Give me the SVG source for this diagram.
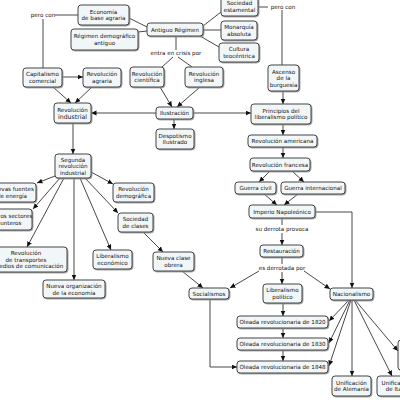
<svg xmlns="http://www.w3.org/2000/svg" width="400" height="400" viewBox="0 0 400 400">
<style>
.n rect{fill:#f1f6f8;stroke:#333;stroke-width:0.9;filter:url(#sh)}
text{font-family:"DejaVu Sans","Verdana",sans-serif;font-size:5.6px;fill:#111;text-anchor:middle}
.c line,.c polyline,.c path{stroke:#333;stroke-width:0.9;fill:none}
.c .a{marker-end:url(#ah)}
</style>
<defs>
<filter id="sh" x="-10%" y="-10%" width="130%" height="140%"><feDropShadow dx="0.8" dy="0.8" stdDeviation="0.3" flood-color="#888"/></filter>
<marker id="ah" markerUnits="userSpaceOnUse" markerWidth="6" markerHeight="6" refX="5.5" refY="2.5" orient="auto"><path d="M0,0 L5.5,2.5 L0,5 z" fill="#111"/></marker>
</defs>
<rect width="400" height="400" fill="#fff"/>
<g class="c" id="connectors">
<line x1="55" y1="15" x2="78" y2="15"/>
<line x1="43" y1="19" x2="43" y2="68"/>
<line x1="129" y1="18" x2="147" y2="27"/>
<line x1="138" y1="32" x2="147" y2="31"/>
<line x1="203" y1="26" x2="221" y2="12"/>
<line x1="203" y1="30" x2="221" y2="30"/>
<line x1="200" y1="36" x2="219" y2="47"/>
<line x1="176" y1="36" x2="176" y2="50"/>
<line x1="173" y1="57" x2="162" y2="67"/>
<line x1="178" y1="57" x2="192" y2="67"/>
<line class="a" x1="160" y1="87" x2="172" y2="107"/>
<line class="a" x1="200" y1="87" x2="177" y2="107"/>
<line class="a" x1="53" y1="87" x2="71" y2="103"/>
<line class="a" x1="92" y1="87" x2="75" y2="103"/>
<line class="a" x1="62" y1="77" x2="83" y2="77"/>
<line class="a" x1="156" y1="113" x2="91" y2="113"/>
<line class="a" x1="193" y1="113" x2="251" y2="113"/>
<line class="a" x1="174" y1="119" x2="174" y2="129"/>
<line x1="258" y1="7" x2="268" y2="7"/>
<line x1="282" y1="10" x2="282" y2="65"/>
<line class="a" x1="283" y1="91" x2="283" y2="104"/>
<line class="a" x1="283" y1="124" x2="283" y2="135"/>
<line class="a" x1="283" y1="147" x2="283" y2="158"/>
<line class="a" x1="270" y1="171" x2="259" y2="182"/>
<line class="a" x1="292" y1="171" x2="304" y2="182"/>
<line class="a" x1="264" y1="194" x2="277" y2="205"/>
<line class="a" x1="298" y1="194" x2="284" y2="205"/>
<polyline class="a" points="315,212 352,212 352,288"/>
<line x1="282" y1="218" x2="282" y2="225"/>
<line class="a" x1="282" y1="233" x2="282" y2="245"/>
<line x1="282" y1="257" x2="282" y2="264"/>
<line class="a" x1="259" y1="271" x2="230" y2="288"/>
<line class="a" x1="282" y1="272" x2="282" y2="284"/>
<line class="a" x1="304" y1="271" x2="330" y2="289"/>
<line class="a" x1="283" y1="303" x2="283" y2="316"/>
<line class="a" x1="283" y1="328" x2="283" y2="338"/>
<line class="a" x1="283" y1="350" x2="283" y2="361"/>
<polyline class="a" points="210,299 210,367 237,367"/>
<line class="a" x1="349" y1="300" x2="329" y2="321"/>
<line class="a" x1="350" y1="300" x2="329" y2="343"/>
<line class="a" x1="351" y1="300" x2="329" y2="366"/>
<line class="a" x1="352" y1="300" x2="352" y2="376"/>
<line class="a" x1="354" y1="300" x2="392" y2="376"/>
<line class="a" x1="355" y1="300" x2="398" y2="351"/>
<line class="a" x1="73" y1="123" x2="73" y2="154"/>
<line class="a" x1="55" y1="176" x2="37" y2="183"/>
<line class="a" x1="60" y1="178" x2="33" y2="209"/>
<line class="a" x1="64" y1="178" x2="27" y2="247"/>
<line class="a" x1="74" y1="178" x2="74" y2="280"/>
<line class="a" x1="80" y1="178" x2="111" y2="250"/>
<line class="a" x1="85" y1="178" x2="118" y2="213"/>
<line class="a" x1="91" y1="172" x2="113" y2="184"/>
<line class="a" x1="143" y1="232" x2="163" y2="252"/>
<line class="a" x1="182" y1="271" x2="203" y2="288"/>
</g>
<g id="labels">
<text x="43" y="17">pero con</text>
<text x="283" y="9">pero con</text>
<text x="176" y="55">entra en crisis por</text>
<text x="282" y="231">su derrota provoca</text>
<text x="282" y="270">es derrotada por</text>
</g>
<g class="n" id="n-economia"><rect x="78" y="5" width="51" height="20" rx="3"/><text><tspan x="103.5" y="13.5">Economía</tspan><tspan x="103.5" y="20">de base agraria</tspan></text></g>
<g class="n" id="n-regimen-demo"><rect x="71" y="29" width="67" height="21" rx="3"/><text><tspan x="104.5" y="38">Régimen demográfico</tspan><tspan x="104.5" y="44.5">antiguo</tspan></text></g>
<g class="n" id="n-capitalismo"><rect x="23" y="68" width="39" height="19" rx="3"/><text><tspan x="42.5" y="76">Capitalismo</tspan><tspan x="42.5" y="82.5">comercial</tspan></text></g>
<g class="n" id="n-rev-agraria"><rect x="83" y="68" width="38" height="19" rx="3"/><text><tspan x="102" y="76">Revolución</tspan><tspan x="102" y="82.5">agraria</tspan></text></g>
<g class="n" id="n-rev-industrial"><rect x="54" y="103" width="37" height="20" rx="3"/><text><tspan x="72.5" y="111.5">Revolución</tspan><tspan x="72.5" y="118.5" font-size="6.2">industrial</tspan></text></g>
<g class="n" id="n-antiguo"><rect x="147" y="23" width="56" height="13" rx="3"/><text x="175" y="31.5">Antiguo Régimen</text></g>
<g class="n" id="n-sociedad-est"><rect x="221" y="-3" width="37" height="19" rx="3"/><text><tspan x="239.5" y="5">Sociedad</tspan><tspan x="239.5" y="11.5">estamental</tspan></text></g>
<g class="n" id="n-monarquia"><rect x="221" y="21" width="36" height="19" rx="3"/><text><tspan x="239" y="29">Monarquía</tspan><tspan x="239" y="35.5">absoluta</tspan></text></g>
<g class="n" id="n-cultura"><rect x="219" y="43" width="40" height="19" rx="3"/><text><tspan x="239" y="51">Cultura</tspan><tspan x="239" y="57.5">teocéntrica</tspan></text></g>
<g class="n" id="n-rev-cientifica"><rect x="130" y="67" width="34" height="20" rx="3"/><text><tspan x="147" y="75.5">Revolución</tspan><tspan x="147" y="82">científica</tspan></text></g>
<g class="n" id="n-rev-inglesa"><rect x="185" y="67" width="38" height="20" rx="3"/><text><tspan x="204" y="75.5">Revolución</tspan><tspan x="204" y="82">inglesa</tspan></text></g>
<g class="n" id="n-ilustracion"><rect x="156" y="107" width="37" height="12" rx="3"/><text x="174.5" y="115">Ilustración</text></g>
<g class="n" id="n-despotismo"><rect x="156" y="129" width="38" height="20" rx="3"/><text><tspan x="175" y="137.5">Despotismo</tspan><tspan x="175" y="144">Ilustrado</tspan></text></g>
<g class="n" id="n-ascenso"><rect x="268" y="65" width="31" height="26" rx="3"/><text><tspan x="283.5" y="73.5">Ascenso</tspan><tspan x="283.5" y="80">de la</tspan><tspan x="283.5" y="86.5">burguesía</tspan></text></g>
<g class="n" id="n-principios"><rect x="251" y="104" width="60" height="20" rx="3"/><text><tspan x="281" y="112.5">Principios del</tspan><tspan x="281" y="119">liberalismo político</tspan></text></g>
<g class="n" id="n-rev-americana"><rect x="248" y="135" width="69" height="12" rx="3"/><text x="282.5" y="143">Revolución americana</text></g>
<g class="n" id="n-rev-francesa"><rect x="250" y="158" width="60" height="13" rx="3"/><text x="280" y="166.5">Revolución francesa</text></g>
<g class="n" id="n-guerra-civil"><rect x="235" y="182" width="41" height="12" rx="3"/><text x="255.5" y="190">Guerra civil</text></g>
<g class="n" id="n-guerra-int"><rect x="281" y="182" width="64" height="12" rx="3"/><text x="313" y="190">Guerra internacional</text></g>
<g class="n" id="n-imperio"><rect x="249" y="205" width="66" height="13" rx="3"/><text x="282" y="213.5">Imperio Napoleónico</text></g>
<g class="n" id="n-restauracion"><rect x="260" y="245" width="43" height="12" rx="3"/><text x="281.5" y="253">Restauración</text></g>
<g class="n" id="n-socialismos"><rect x="189" y="288" width="40" height="11" rx="3"/><text x="209" y="295.5">Socialismos</text></g>
<g class="n" id="n-lib-politico"><rect x="263" y="284" width="39" height="19" rx="3"/><text><tspan x="282.5" y="292">Liberalismo</tspan><tspan x="282.5" y="298.5">político</tspan></text></g>
<g class="n" id="n-nacionalismo"><rect x="330" y="288" width="43" height="12" rx="3"/><text x="351.5" y="296">Nacionalismo</text></g>
<g class="n" id="n-1820"><rect x="237" y="316" width="91" height="12" rx="3"/><text x="282.5" y="324">Oleada revolucionaria de 1820</text></g>
<g class="n" id="n-1830"><rect x="237" y="338" width="91" height="12" rx="3"/><text x="282.5" y="346">Oleada revolucionaria de 1830</text></g>
<g class="n" id="n-1848"><rect x="237" y="361" width="91" height="12" rx="3"/><text x="282.5" y="369">Oleada revolucionaria de 1848</text></g>
<g class="n" id="n-alemania"><rect x="332" y="376" width="39" height="20" rx="3"/><text><tspan x="351.5" y="384.5">Unificación</tspan><tspan x="351.5" y="391">de Alemania</tspan></text></g>
<g class="n" id="n-italia"><rect x="377" y="376" width="40" height="20" rx="3"/><text><tspan x="397" y="384.5">Unificación</tspan><tspan x="397" y="391">de Italia</tspan></text></g>
<g class="n" id="n-right"><rect x="398" y="340" width="40" height="30" rx="3"/></g>
<g class="n" id="n-segunda"><rect x="55" y="154" width="36" height="24" rx="3"/><text><tspan x="73" y="161.5">Segunda</tspan><tspan x="73" y="168">revolución</tspan><tspan x="73" y="174.5">industrial</tspan></text></g>
<g class="n" id="n-fuentes"><rect x="-12" y="183" width="48" height="19" rx="3"/><text><tspan x="12" y="191">Nuevas fuentes</tspan><tspan x="12" y="197.5">de energía</tspan></text></g>
<g class="n" id="n-sectores"><rect x="-14" y="209" width="46" height="21" rx="3"/><text><tspan x="9" y="218">Nuevos sectores</tspan><tspan x="9" y="224.5">punteros</tspan></text></g>
<g class="n" id="n-transportes"><rect x="-15" y="247" width="82" height="25" rx="3"/><text><tspan x="26" y="255">Revolución</tspan><tspan x="26" y="261.5">de transportes</tspan><tspan x="26" y="268">y medios de comunicación</tspan></text></g>
<g class="n" id="n-nueva-org"><rect x="43" y="280" width="62" height="18" rx="3"/><text><tspan x="74" y="288">Nueva organización</tspan><tspan x="74" y="294.5">de la economía</tspan></text></g>
<g class="n" id="n-lib-economico"><rect x="93" y="250" width="39" height="19" rx="3"/><text><tspan x="112.5" y="258">Liberalismo</tspan><tspan x="112.5" y="264.5">económico</tspan></text></g>
<g class="n" id="n-rev-demografica"><rect x="113" y="183" width="41" height="19" rx="3"/><text><tspan x="133.5" y="191">Revolución</tspan><tspan x="133.5" y="197.5">demográfica</tspan></text></g>
<g class="n" id="n-sociedad-clases"><rect x="118" y="213" width="35" height="19" rx="3"/><text><tspan x="135.5" y="221">Sociedad</tspan><tspan x="135.5" y="227.5">de clases</tspan></text></g>
<g class="n" id="n-clase-obrera"><rect x="153" y="252" width="41" height="19" rx="3"/><text><tspan x="173.5" y="260">Nueva clase</tspan><tspan x="173.5" y="266.5">obrera</tspan></text></g>
</svg>
